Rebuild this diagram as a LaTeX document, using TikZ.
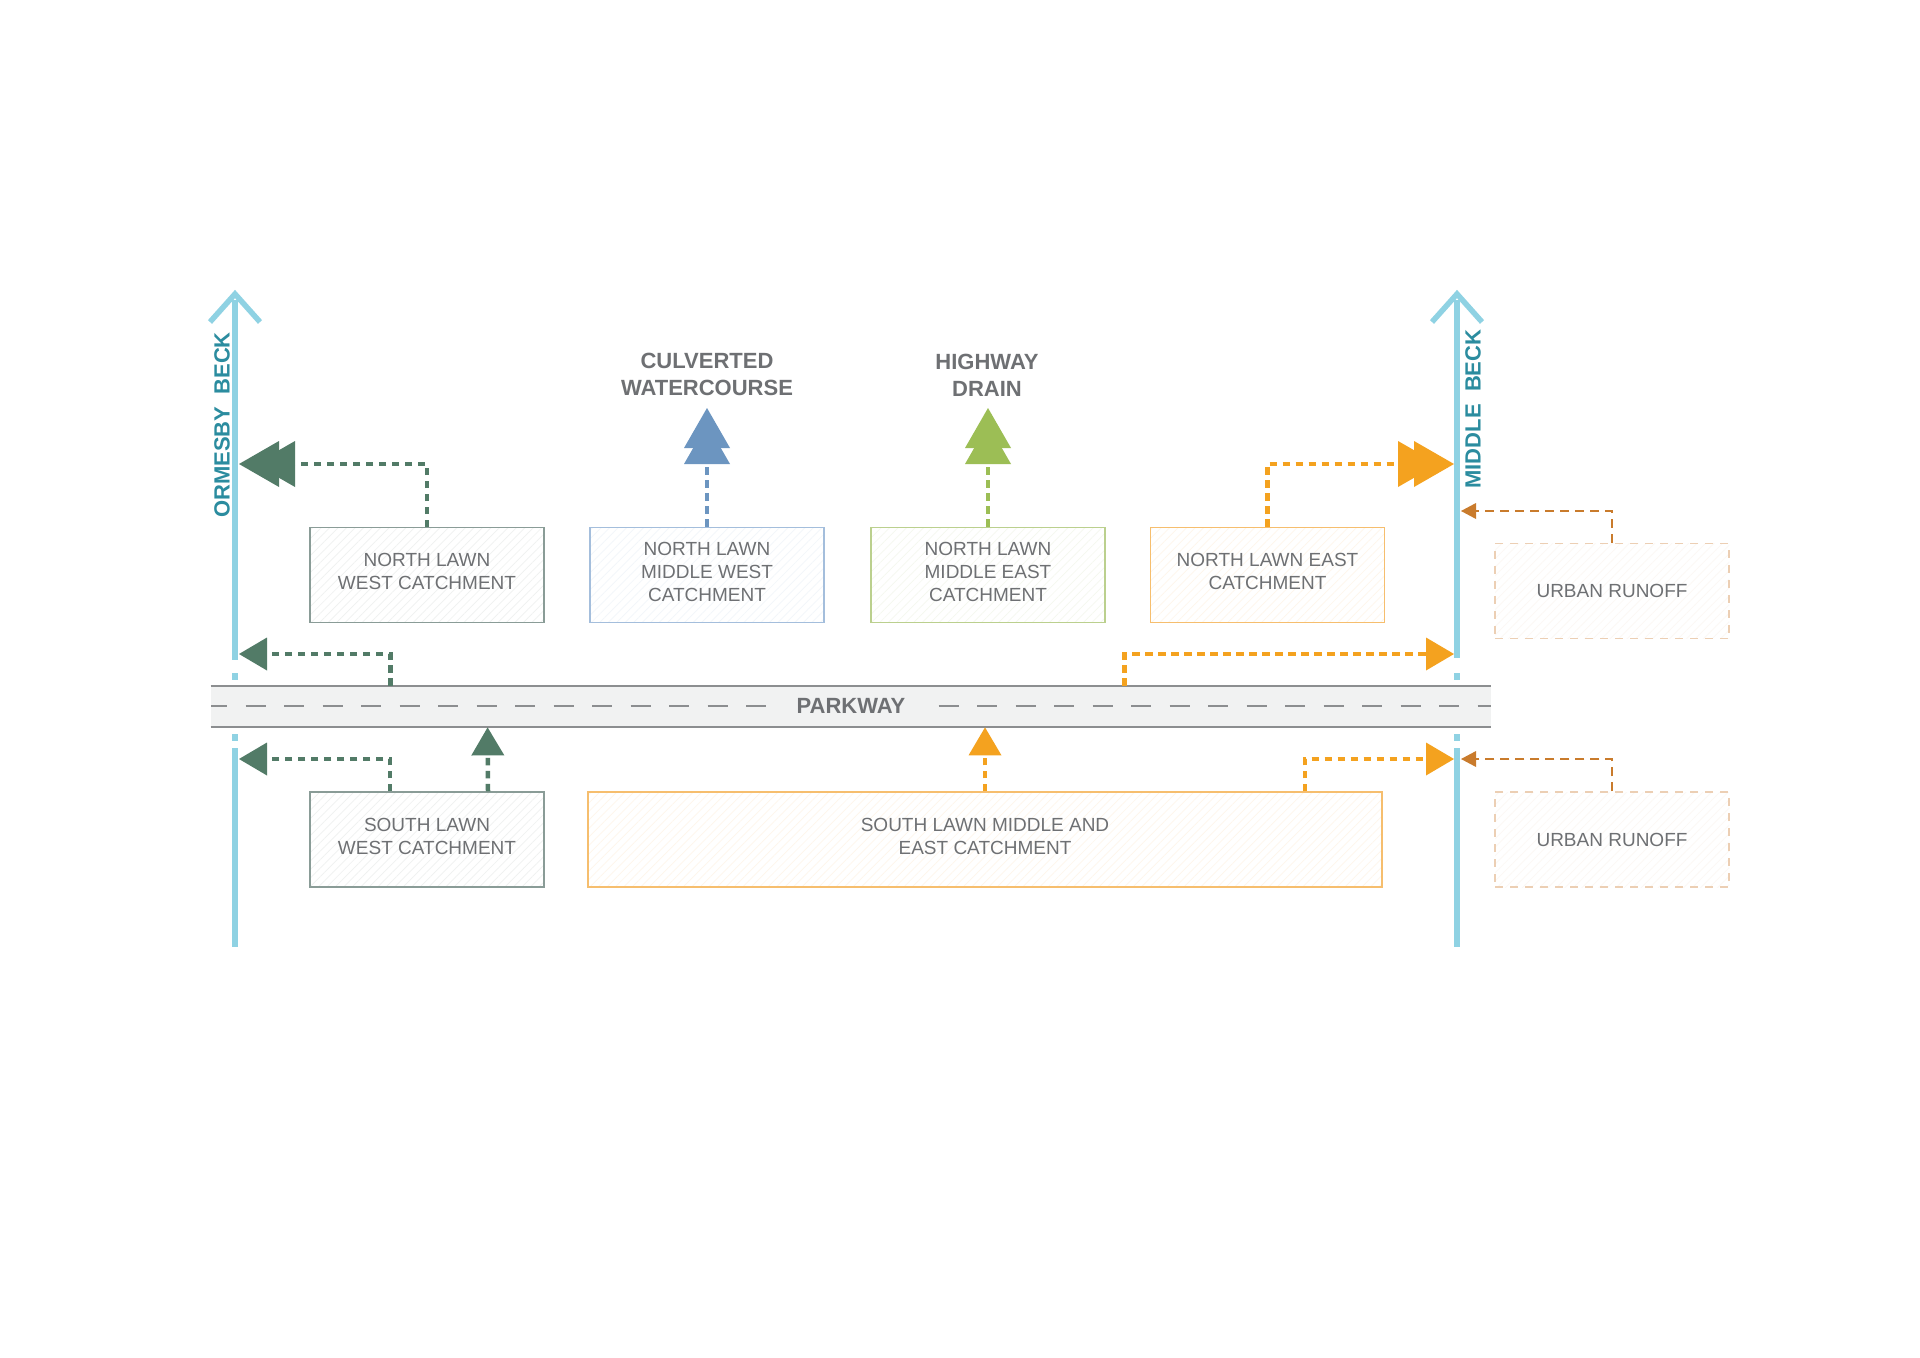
\documentclass[tikz,border=0pt]{standalone}
\usepackage{fontspec}
\setmainfont{Liberation Sans}
\usetikzlibrary{arrows.meta,calc,patterns.meta}
\definecolor{riverc}{HTML}{8FD2E3}
\definecolor{rlab}{HTML}{2B8C9F}
\definecolor{dkg}{HTML}{527B67}
\definecolor{bluec}{HTML}{6C95C0}
\definecolor{greenc}{HTML}{9CBE55}
\definecolor{orangec}{HTML}{F4A21F}
\definecolor{urbc}{HTML}{C97B2C}
\definecolor{txt}{HTML}{6E7073}
\definecolor{roadc}{HTML}{F1F2F2}
\definecolor{roadline}{HTML}{8C8E90}
\definecolor{bgray}{HTML}{8A9C97}
\definecolor{bblue}{HTML}{A4BEDC}
\definecolor{bgreen}{HTML}{BBD08E}
\definecolor{borange}{HTML}{F6BE6E}
\definecolor{burban}{HTML}{ECCFB4}
\tikzset{
  river/.style={line width=2.75pt, draw=riverc},
  rlabel/.style={rotate=90, text=rlab, font=\fontsize{11pt}{13pt}\selectfont\bfseries, inner sep=0pt},
  title/.style={text=txt, font=\fontsize{11pt}{13.5pt}\selectfont\bfseries, align=center, inner sep=0pt},
  boxbase/.style={line width=0.6pt, minimum width=117pt, minimum height=47.5pt, inner sep=0pt,
    align=center, text=txt, font=\fontsize{9.5pt}{11.5pt}\selectfont},
  box/.style={boxbase, execute at end node={\rule[-3.5pt]{0pt}{3.5pt}}},
  hatch/.style={pattern={Lines[angle=45,distance=3pt,line width=0.35pt]}, pattern color=#1!14, draw=#1},
  urbanbox/.style={boxbase, hatch=burban, dash pattern=on 4pt off 3.5pt},
  flow/.style={line width=2.25pt, dash pattern=on 3.75pt off 2.75pt},
  urbflow/.style={line width=1.2pt, dash pattern=on 4.5pt off 3pt, draw=urbc},
  bigtip/.style={-{Triangle[length=20pt,width=23pt,line width=0pt,sep=-12pt]Triangle[length=20pt,width=23pt,line width=0pt]}},
  smalltip/.style={-{Triangle[length=14pt,width=16.5pt,line width=0pt]}},
  urbtip/.style={-{Triangle[length=7.5pt,width=8pt,line width=0pt]}},
}
\begin{document}
\begin{tikzpicture}[x=0.5pt,y=-0.5pt]
\useasboundingbox[fill=white] (0,0) rectangle (1920,1358);

% rivers
\coordinate (obTop) at (235,294);
\coordinate (obBot) at (235,947);
\coordinate (mbTop) at (1457,294);
\coordinate (mbBot) at (1457,947);
\draw[river] (235,300) -- (235,660);
\draw[river] (235,673) -- (235,680);
\draw[river] (235,734) -- (235,741);
\draw[river] (235,748) -- (obBot);
\draw[river, line join=miter] (210,322) -- (obTop) -- (260,322);
\draw[river] (1457,300) -- (1457,658);
\draw[river] (1457,673) -- (1457,680);
\draw[river] (1457,734) -- (1457,741);
\draw[river] (1457,748) -- (mbBot);
\draw[river, line join=miter] (1432,322) -- (mbTop) -- (1482,322);
\node[rlabel] (oblab) at (222,425) {ORMESBY~~BECK};
\node[rlabel] (mblab) at (1473,409) {MIDDLE~~BECK};

% road
\node[fill=roadc, minimum width=640pt, minimum height=20.5pt, inner sep=0pt] (pk) at (851,706.5) {};
\draw[roadline, line width=1pt] (pk.north west) -- (pk.north east);
\draw[roadline, line width=1pt] (pk.south west) -- (pk.south east);
\draw[roadline, line width=1pt, dash pattern=on 10pt off 9.25pt, dash phase=2pt] (211,706) -- (1491,706);
\node[fill=roadc, inner xsep=13pt, inner ysep=2pt, text=txt, font=\fontsize{11pt}{13pt}\selectfont\bfseries] (pklab) at (851,706) {PARKWAY};

% boxes
\node[box, hatch=bgray] (nlw) at (427,575) {NORTH LAWN\\WEST CATCHMENT};
\node[box, hatch=bblue] (nlmw) at (707,575) {NORTH LAWN\\MIDDLE WEST\\CATCHMENT};
\node[box, hatch=bgreen] (nlme) at (988,575) {NORTH LAWN\\MIDDLE EAST\\CATCHMENT};
\node[box, hatch=borange] (nle) at (1267.5,575) {NORTH LAWN EAST\\CATCHMENT};
\node[urbanbox] (ur1) at (1612,591) {URBAN RUNOFF};
\node[box, hatch=bgray] (slw) at (427,839.5) {SOUTH LAWN\\WEST CATCHMENT};
\node[box, hatch=borange, minimum width=397pt] (slme) at (985,839.5) {SOUTH LAWN MIDDLE AND\\EAST CATCHMENT};
\node[urbanbox] (ur2) at (1612,839.5) {URBAN RUNOFF};

% titles
\node[title] (culv) at (707,374.5) {CULVERTED\\WATERCOURSE};
\node[title] (hwd) at (987,375.5) {HIGHWAY\\DRAIN};
\coordinate (culvTip) at (707,408);
\coordinate (hwdTip) at (988,408);

% river attachment points
\coordinate (obN) at (239,464);
\coordinate (obP) at (239,654);
\coordinate (obS) at (239,759);
\coordinate (mbN) at (1454,464);
\coordinate (mbP) at (1454,654);
\coordinate (mbS) at (1454,759);
\coordinate (mbU1) at (1461,511);
\coordinate (mbU2) at (1461,759);

% flows
\draw[flow, dkg, bigtip] (nlw.north) |- (obN);
\draw[flow, bluec, bigtip] (nlmw.north) -- (culvTip);
\draw[flow, greenc, bigtip] (nlme.north) -- (hwdTip);
\draw[flow, orangec, bigtip] (nle.north) |- (mbN);
\draw[urbflow, urbtip] (ur1.north) |- (mbU1);

\draw[flow, dkg, smalltip] ($(pk.north west)+(180,0)$) |- (obP);
\draw[flow, orangec, smalltip] ($(pk.north west)+(914,0)$) |- (mbP);

\draw[flow, dkg, smalltip] ($(slw.north)+(-37,0)$) |- (obS);
\draw[flow, dkg, smalltip] ($(slw.north)+(61,0)$) -- ($(pk.south west)+(277,0)$);
\draw[flow, orangec, smalltip] (slme.north) -- (pk.south -| slme.north);
\draw[flow, orangec, smalltip] ($(slme.north)+(320,0)$) |- (mbS);
\draw[urbflow, urbtip] (ur2.north) |- (mbU2);
\end{tikzpicture}
\end{document}
